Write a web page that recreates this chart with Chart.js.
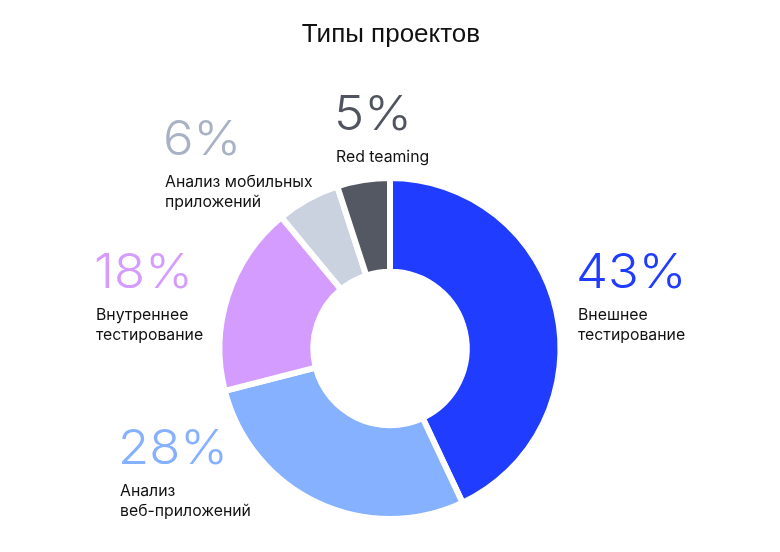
<!DOCTYPE html>
<html><head><meta charset="utf-8">
<script src="https://cdn.jsdelivr.net/npm/chart.js@4/dist/chart.umd.min.js"></script>
<style>html,body{margin:0;padding:0;background:#fff;}#wrap{width:780px;height:552px;position:relative;}</style>
</head><body><div id="wrap"><canvas id="c" width="780" height="552"></canvas></div>
<script>
const title = 'Типы проектов';
const categories = [['Внешнее','тестирование'],['Анализ','веб-приложений'],['Внутреннее','тестирование'],['Анализ мобильных','приложений'],['Red teaming']];
const values = [43, 28, 18, 6, 5];
const colors = ['#1f3cff', '#86b1ff', '#d49cff', '#cbd2df', '#545862'];
const pctColors = ['#1f3cff', '#86b1ff', '#d49cff', '#a9b2c5', '#50545e'];

// label anchor positions (text layout only)
const labelPos = [[578,288],[120,464],[96,288],[165,155],[336,130]];

const labelsPlugin = {
  id: 'labels',
  afterDraw(chart) {
    const ctx = chart.ctx;
    ctx.save();
    ctx.fillStyle = '#111';
    ctx.font = '400 26px "Liberation Sans"';
    ctx.textAlign = 'center';
    ctx.textBaseline = 'middle';
    ctx.fillText(title, 391, 35);
    ctx.textAlign = 'left';
    ctx.textBaseline = 'alphabetic';
    values.forEach((v, i) => {
      const [x, y] = labelPos[i];
      ctx.fillStyle = pctColors[i];
      ctx.font = '300 48px Inter';
      ctx.save();
      ctx.translate(x - 2, y);
      ctx.scale(1.06, 1);
      ctx.fillText(v + '%', 0, 0);
      ctx.restore();
      ctx.fillStyle = '#111';
      ctx.font = '400 15.8px Inter';
      categories[i].forEach((line, j) => {
        ctx.fillText(line, x, y + 32 + j * 20);
      });
    });
    ctx.restore();
  }
};

new Chart(document.getElementById('c'), {
  type: 'doughnut',
  data: {
    labels: categories.map(c => c.join(' ')),
    datasets: [{
      data: values,
      backgroundColor: colors,
      borderColor: '#ffffff',
      borderWidth: 6,
      hoverOffset: 0
    }]
  },
  options: {
    responsive: false,
    animation: false,
    cutout: '45%',
    layout: { padding: { top: 175, bottom: 30, left: 0, right: 0 } },
    plugins: { legend: { display: false }, tooltip: { enabled: false }, title: { display: false } }
  },
  plugins: [labelsPlugin]
});
</script></body></html>
